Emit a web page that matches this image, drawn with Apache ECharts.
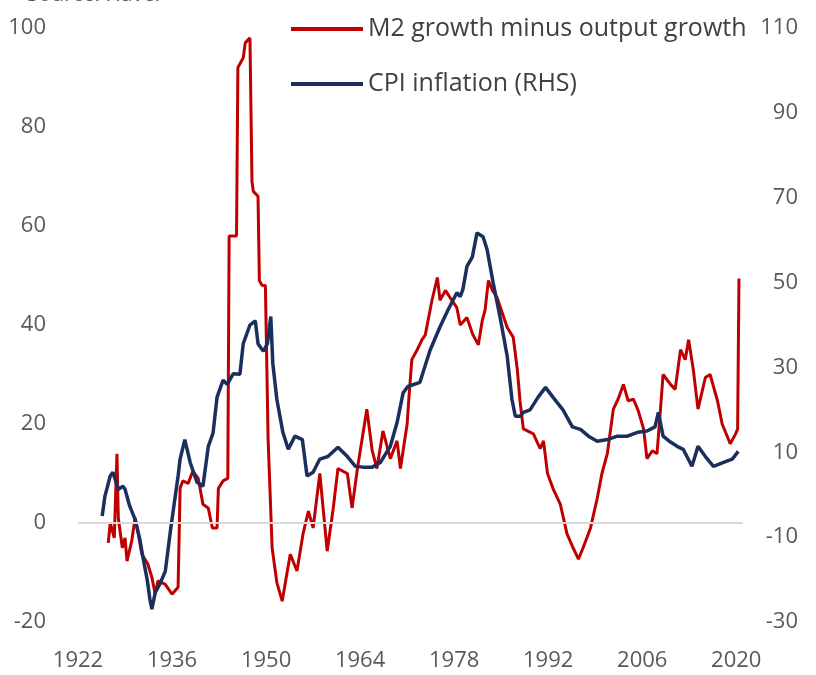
<!DOCTYPE html>
<html>
<head>
<meta charset="utf-8">
<title>M2 growth vs CPI inflation</title>
<script src="https://cdn.jsdelivr.net/npm/echarts@6/dist/echarts.min.js"></script>
<style>
    html, body { margin: 0; padding: 0; background: #fff; }
    #chart { width: 816px; height: 675px; }
</style>
</head>
<body>
<div id="chart"></div>
<script>
// M2 growth minus output growth (left axis)
const m2Years = [1926.5, 1926.8, 1927.4, 1927.8, 1928.0, 1928.6, 1929.0, 1929.3, 1930.0, 1930.5,
    1930.9, 1931.5, 1932.4, 1933.0, 1933.5, 1933.9, 1935.0, 1936.0, 1936.9, 1937.2,
    1937.6, 1938.4, 1939.1, 1939.9, 1940.6, 1941.4, 1942.0, 1942.7, 1942.9, 1943.6,
    1944.3, 1944.5, 1945.6, 1945.8, 1946.6, 1946.9, 1947.6, 1947.9, 1948.1, 1948.8,
    1949.0, 1949.4, 1949.9, 1950.3, 1950.9, 1951.6, 1952.4, 1953.0, 1953.6, 1954.6,
    1955.5, 1956.3, 1957.0, 1958.0, 1959.1, 1960.0, 1960.7, 1962.1, 1962.8, 1963.6,
    1965.0, 1965.8, 1966.5, 1967.4, 1968.5, 1969.5, 1970.0, 1971.0, 1971.3, 1971.7,
    1972.5, 1973.2, 1973.7, 1974.7, 1975.5, 1975.9, 1976.7, 1977.4, 1978.4, 1978.9,
    1979.9, 1980.8, 1981.6, 1982.2, 1982.6, 1983.1, 1983.7, 1984.4, 1984.9, 1985.9,
    1986.8, 1987.4, 1987.8, 1988.3, 1988.9, 1989.8, 1990.8, 1991.3, 1991.9, 1992.7,
    1993.8, 1994.8, 1995.7, 1996.5, 1997.2, 1998.3, 1999.3, 2000.0, 2000.8, 2001.7,
    2002.4, 2003.2, 2003.9, 2004.7, 2005.4, 2006.2, 2006.7, 2007.5, 2008.2, 2008.7,
    2009.1, 2010.2, 2010.9, 2011.7, 2012.4, 2012.9, 2013.6, 2014.3, 2015.4, 2016.1,
    2017.2, 2017.9, 2019.1, 2019.9, 2020.2, 2020.4]
const m2Values = [-4, 0, -3, 14, 1, -5, -3, -7.7, -3.6, 1,
    -1.6, -6.3, -8.3, -11, -14.4, -11.7, -12.4, -14.4, -13, 7,
    8.5, 8, 10.5, 9, 3.8, 3, -1, -1, 7, 8.5,
    9, 58, 58, 92, 94, 97, 98, 69, 67, 66,
    49, 48, 48, 17, -5, -12, -15.8, -11, -6.3, -9.7,
    -2.2, 2.4, -1, 10, -5.7, 3, 11, 10, 3, 11,
    23, 14.6, 11, 18.6, 13, 16.6, 11, 20, 26, 33,
    35, 37, 38, 45, 49.6, 45, 47, 45.5, 43.5, 40,
    41.5, 38, 36, 41, 43, 49, 47, 45.5, 43.5, 39.5,
    37.5, 31, 24.7, 19, 18.6, 18, 15, 16.6, 10, 7,
    3.8, -2.2, -5, -7.3, -5, -1, 5, 10, 14, 23,
    25, 28, 24.7, 25, 22.7, 19, 13, 14.6, 14, 22.7,
    30, 28, 27, 35, 33, 37, 31, 23, 29.4, 30,
    24.7, 20, 16, 18, 19, 49.4]

// CPI inflation (right axis)
const cpiYears = [1925.6, 1926.0, 1926.8, 1927.2, 1928.0, 1928.7, 1929.0, 1929.7, 1930.5, 1931.2,
    1931.7, 1932.3, 1932.7, 1933.0, 1933.5, 1934.2, 1935.0, 1935.8, 1936.9, 1937.2,
    1937.9, 1938.7, 1939.7, 1940.6, 1941.4, 1942.1, 1942.7, 1943.6, 1944.2, 1945.1,
    1946.1, 1946.6, 1947.6, 1948.4, 1948.8, 1949.6, 1950.2, 1950.7, 1951.0, 1951.6,
    1952.5, 1953.3, 1954.3, 1955.4, 1956.1, 1957.0, 1958.0, 1959.2, 1960.7, 1962.1,
    1963.3, 1964.4, 1965.8, 1967.0, 1968.5, 1969.5, 1970.4, 1971.1, 1972.9, 1974.4,
    1975.9, 1977.1, 1978.4, 1978.9, 1979.3, 1979.9, 1980.7, 1981.4, 1982.3, 1982.9,
    1983.8, 1984.9, 1985.9, 1986.6, 1987.1, 1987.8, 1988.3, 1989.3, 1990.5, 1991.6,
    1992.7, 1994.2, 1995.6, 1996.8, 1998.0, 1999.3, 2000.8, 2002.3, 2003.8, 2005.3,
    2006.7, 2007.9, 2008.4, 2009.1, 2010.2, 2011.2, 2012.1, 2013.4, 2014.3, 2015.4,
    2016.6, 2018.1, 2019.4, 2020.3]
const cpiValues = [-5, -0.4, 4.4, 5.3, 1.3, 2, 1.3, -2.7, -5.8, -10.5,
    -15, -20, -24.6, -27, -23, -21, -18, -8, 4.4, 8.4,
    13, 7.6, 3, 2, 11.4, 14.5, 23, 27, 26, 28.5,
    28.4, 35.6, 40, 41, 35.6, 33.8, 35.6, 42, 31, 22.5,
    14.7, 10.7, 13.8, 13, 4.4, 5.3, 8.4, 9, 11.2, 9,
    6.7, 6.5, 6.5, 7.6, 11.4, 17, 24, 25.5, 26.5, 34,
    39.6, 43.6, 47.6, 46.7, 48.4, 53.8, 56, 61.7, 60.8, 57.8,
    50, 41.3, 32.6, 22.5, 18.5, 18.5, 19.4, 20, 23, 25.3,
    23, 20, 16, 15.4, 13.8, 12.6, 13, 13.8, 13.8, 14.7,
    15, 16, 19.4, 13.8, 12.4, 11.4, 10.7, 6.7, 11.4, 9,
    6.7, 7.6, 8.4, 10.2]

const seriesNames = ['M2 growth minus output growth', 'CPI inflation (RHS)']

const zip = (xs, ys) => xs.map((x, i) => [x, ys[i]])

const labelColor = '#595959'
const fontFamily = '"Open Sans", sans-serif'

const myChart = echarts.init(document.getElementById('chart'))
myChart.setOption({
    animation: false,
    graphic: [
        {
            // source note, cut off at the top edge like in the original
            type: 'text',
            left: 27,
            top: -15,
            style: {
                text: 'Source: Haver',
                fill: labelColor,
                font: '21px "Open Sans", sans-serif',
            },
        },
    ],
    legend: {
        orient: 'vertical',
        left: 286,
        top: 9,
        icon: 'rect',
        itemWidth: 72,
        itemHeight: 4,
        itemGap: 25,
        textStyle: {
            color: '#404040',
            fontSize: 25,
            lineHeight: 30,
            fontFamily: fontFamily,
        },
        data: seriesNames,
    },
    grid: {
        left: 78,
        right: 73,
        top: 28,
        bottom: 53,
    },
    xAxis: {
        type: 'value',
        min: 1922,
        max: 2021,
        interval: 14,
        axisLine: { show: false },
        axisTick: { show: false },
        splitLine: { show: false },
        axisLabel: {
            color: labelColor,
            fontSize: 22,
            fontFamily: fontFamily,
            margin: 28,
            formatter: (v) => ((v - 1922) % 14 === 0 ? String(v) : ''),
        },
    },
    yAxis: [
        {
            type: 'value',
            min: -20,
            max: 100,
            interval: 20,
            splitLine: { show: false },
            axisLine: { show: false },
            axisTick: { show: false },
            axisLabel: {
                color: labelColor,
                fontSize: 22,
                fontFamily: fontFamily,
                margin: 32,
            },
        },
        {
            type: 'value',
            min: -30,
            max: 110,
            interval: 20,
            splitLine: { show: false },
            axisLine: { show: false },
            axisTick: { show: false },
            axisLabel: {
                color: labelColor,
                fontSize: 22,
                fontFamily: fontFamily,
                margin: 55,
                align: 'right',
            },
        },
    ],
    series: [
        {
            name: seriesNames[0],
            type: 'line',
            yAxisIndex: 0,
            showSymbol: false,
            color: '#C00000',
            lineStyle: { width: 3, color: '#C00000' },
            data: zip(m2Years, m2Values),
            markLine: {
                // zero line of the left axis
                silent: true,
                symbol: 'none',
                label: { show: false },
                lineStyle: { color: '#D9D9D9', width: 2, type: 'solid' },
                data: [{ yAxis: 0 }],
            },
            z: 2,
        },
        {
            name: seriesNames[1],
            type: 'line',
            yAxisIndex: 1,
            showSymbol: false,
            color: '#1B2F5E',
            lineStyle: { width: 3.5, color: '#1B2F5E' },
            data: zip(cpiYears, cpiValues),
            z: 3,
        },
    ],
})
</script>
</body>
</html>
